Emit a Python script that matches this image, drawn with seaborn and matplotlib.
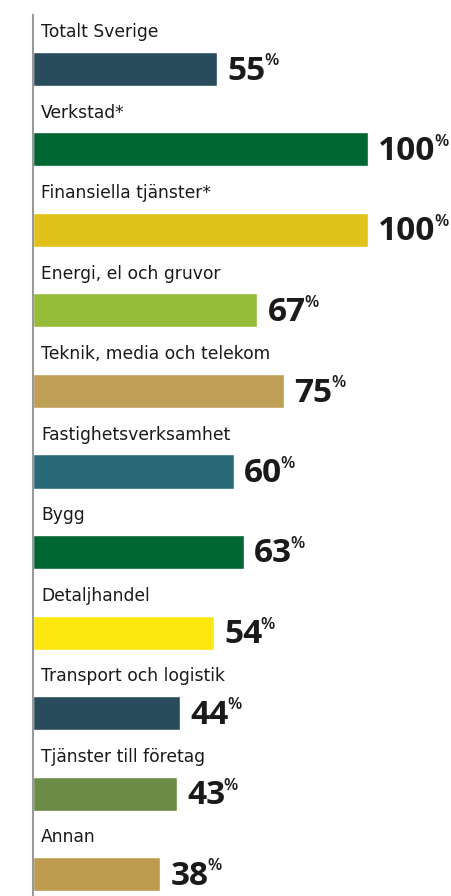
import matplotlib
matplotlib.use("Agg")
import matplotlib.pyplot as plt
import seaborn as sns

# data
branscher = ["Totalt Sverige", "Verkstad*", "Finansiella tjänster*",
             "Energi, el och gruvor", "Teknik, media och telekom",
             "Fastighetsverksamhet", "Bygg", "Detaljhandel",
             "Transport och logistik", "Tjänster till företag", "Annan"]
andel = [55, 100, 100, 67, 75, 60, 63, 54, 44, 43, 38]
farger = ["#284C5C", "#006633", "#E0C31A", "#96BC3A", "#BF9E55", "#2A6A78",
          "#006633", "#FCE80F", "#284C5C", "#6B8C47", "#BD9C50"]

sns.set_style("white")
plt.rcParams["font.family"] = ["Open Sans", "DejaVu Sans"]

W, H = 452, 896
fig = plt.figure(figsize=(W / 100, H / 100), dpi=100)
x0, ytop = 33, 15
ax = fig.add_axes([x0 / W, 0, (W - x0) / W, (H - ytop) / H])

px_per_pct = 3.35
step = 80.5
sns.barplot(x=andel, y=branscher, hue=branscher, palette=farger, legend=False,
            orient="h", width=34 / step, saturation=1, ax=ax)

ax.set_xlim(0, (W - x0) / px_per_pct)
ax.set_ylim((H - 69) / step, (ytop - 69) / step)
ax.set_xticks([])
ax.set_yticks([])
ax.set_xlabel("")
ax.set_ylabel("")
sns.despine(ax=ax, left=False, bottom=True, top=True, right=True)
ax.spines["left"].set_color("#999999")
ax.spines["left"].set_linewidth(1.5)

for i, (namn, v) in enumerate(zip(branscher, andel)):
    ax.text(8 / px_per_pct, i - 37 / step, namn, fontsize=12.3, color="#1a1a1a",
            family="DejaVu Sans", va="center", ha="left")
    t = ax.text(v + 10 / px_per_pct, i + 10.5 / step, str(v), fontsize=24,
                fontweight="bold", color="#1a1a1a", va="baseline", ha="left")
    ax.annotate("%", xy=(1, 1), xycoords=t, xytext=(-1, 1),
                textcoords="offset points", fontsize=12, fontweight="semibold",
                color="#1a1a1a", va="top", ha="left")

fig.savefig("out.png", dpi=100)
